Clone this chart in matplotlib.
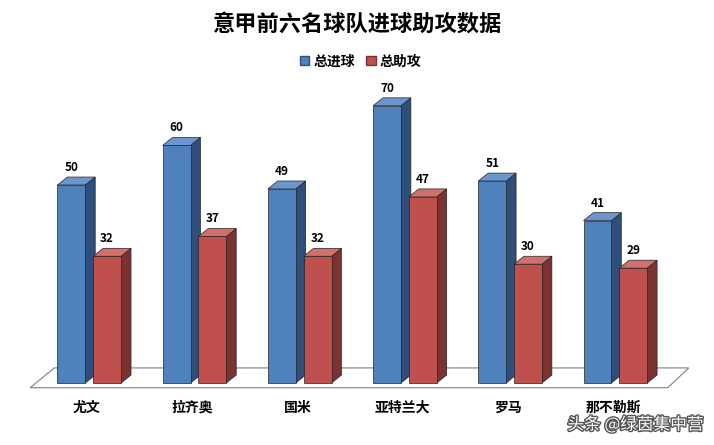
import matplotlib
matplotlib.use("Agg")
import matplotlib.pyplot as plt
from matplotlib.patches import Polygon, Patch
import matplotlib.patheffects as pe

plt.rcParams['font.family'] = ['Noto Sans CJK SC', 'DejaVu Sans']

categories = ["尤文", "拉齐奥", "国米", "亚特兰大", "罗马", "那不勒斯"]
goals = [50, 60, 49, 70, 51, 41]
assists = [32, 37, 32, 47, 30, 29]
series_names = ["总进球", "总助攻"]

fig = plt.figure(figsize=(7.14, 4.45), dpi=100)
ax = fig.add_axes([0, 0, 1, 1])
ax.set_xlim(-0.846, 5.94)
ax.set_ylim(-15.66, 96.7)
ax.axis('off')

W = 0.265
DX, DY = 0.094, 2.0

floor = Polygon([(-0.56, -1.2), (5.5, -1.2), (5.7, 3.8), (-0.33, 3.8)],
                closed=True, facecolor='white', edgecolor='#808080', lw=0.8, zorder=1)
ax.add_patch(floor)

def bar3d(x, h, front, side, top):
    ax.add_patch(Polygon([(x + W, 0), (x + W + DX, DY), (x + W + DX, h + DY), (x + W, h)],
                         facecolor=side, edgecolor='#222', lw=0.5, zorder=2))
    ax.add_patch(Polygon([(x, h), (x + W, h), (x + W + DX, h + DY), (x + DX, h + DY)],
                         facecolor=top, edgecolor='#222', lw=0.5, zorder=2))
    ax.add_patch(Polygon([(x, 0), (x + W, 0), (x + W, h), (x, h)],
                         facecolor=front, edgecolor='#222', lw=0.5, zorder=3))
    ax.text(x + W / 2, h + DY + 0.8, str(h), ha='center', va='bottom',
            fontsize=8.5, fontweight='bold', zorder=4)

for i, (g, a) in enumerate(zip(goals, assists)):
    bar3d(i - 0.30, g, '#4F81BD', '#2F4F7A', '#6E96CE')
    bar3d(i + 0.04, a, '#C0504D', '#7A3331', '#D2706D')
    ax.text(i - 0.02, -4.5, categories[i], ha='center', va='top', fontsize=10, fontweight='bold')

fig.text(0.5, 0.945, "意甲前六名球队进球助攻数据", ha='center', va='center',
         fontsize=16, fontweight='bold')
handles = [Patch(facecolor='#4F81BD', edgecolor='#2F4F7A'),
           Patch(facecolor='#C0504D', edgecolor='#7A3331')]
fig.legend(handles, series_names, loc='center', bbox_to_anchor=(0.505, 0.862), ncol=2,
           frameon=False, handlelength=0.7, handleheight=0.7,
           columnspacing=0.8, handletextpad=0.3, prop={'weight': 'bold', 'size': 10})

fig.text(0.985, 0.045, "头条 @绿茵集中营", ha='right', va='center', fontsize=12,
         color='white', path_effects=[pe.withStroke(linewidth=2, foreground='#555')])

fig.savefig("out.png", dpi=100, facecolor='white')
